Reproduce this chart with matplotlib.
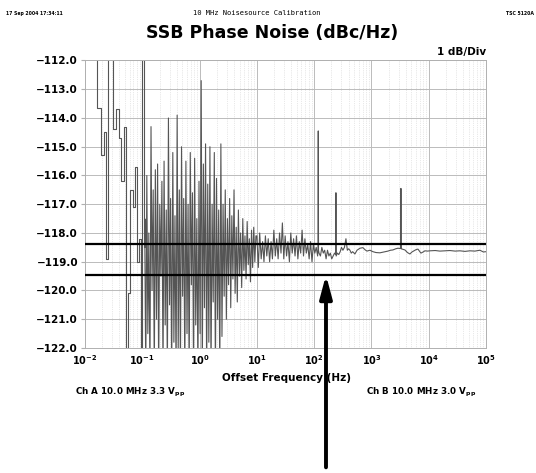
import matplotlib
matplotlib.use("Agg")
import matplotlib.pyplot as plt
from matplotlib.ticker import LogLocator, NullFormatter

# ---- data ----
# low offsets: few FFT bins, drawn as steps
low_freq = [0.01556, 0.01640, 0.01864, 0.02128, 0.02321, 0.02550, 0.03119, 0.03516, 0.03846, 0.04246,
            0.04883, 0.05257, 0.05740, 0.06223, 0.06887, 0.07601, 0.08089, 0.08750, 0.09310, 0.1007,
            0.1050, 0.110]
low_dbc = [-105.0, -113.66, -115.3, -114.5, -118.9, -105.0, -114.4, -113.7, -114.7, -116.2,
           -114.3, -123.0, -120.1, -116.5, -117.1, -115.7, -119.0, -118.2, -123.0, -111.0,
           -118.5, -117.5]

# 0.1 Hz .. 10 Hz: large noise
dense_freq = [0.110, 0.115, 0.120, 0.125, 0.130, 0.136, 0.142, 0.148, 0.155, 0.162,
              0.169, 0.177, 0.185, 0.193, 0.202, 0.211, 0.220, 0.230, 0.240, 0.251,
              0.262, 0.274, 0.286, 0.299, 0.312, 0.326, 0.341, 0.356, 0.372, 0.389,
              0.406, 0.424, 0.443, 0.463, 0.484, 0.506, 0.528, 0.552, 0.577, 0.603,
              0.630, 0.658, 0.688, 0.719, 0.751, 0.785, 0.820, 0.857, 0.895, 0.935,
              0.977, 1.021, 1.067, 1.115, 1.165, 1.217, 1.272, 1.329, 1.389, 1.451,
              1.516, 1.584, 1.655, 1.730, 1.808, 1.889, 1.974, 2.063, 2.156, 2.253,
              2.354, 2.460, 2.571, 2.687, 2.808, 2.934, 3.066, 3.204, 3.348, 3.499,
              3.656, 3.821, 3.993, 4.173, 4.361, 4.557, 4.762, 4.976, 5.200, 5.434,
              5.679, 5.934, 6.201, 6.480, 6.772, 7.077, 7.395, 7.728, 8.076, 8.439,
              8.819, 9.216, 9.631]
dense_dbc = [-117.5, -123.0, -116.0, -121.5, -118.0, -123.0, -114.3, -120.0, -116.5, -123.0,
             -115.8, -121.0, -115.6, -123.0, -117.0, -119.5, -116.2, -123.0, -115.5, -121.2,
             -117.2, -123.0, -114.0, -120.5, -116.8, -123.0, -115.2, -121.8, -117.4, -123.0,
             -113.9, -122.0, -116.5, -123.0, -115.0, -120.2, -116.8, -123.0, -115.5, -121.5,
             -117.0, -123.0, -115.2, -119.8, -116.6, -123.0, -115.4, -121.2, -117.5, -123.0,
             -116.2, -121.5, -112.7, -123.0, -115.6, -120.6, -114.9, -123.0, -116.3, -121.8,
             -115.0, -123.0, -117.0, -120.4, -115.2, -123.0, -116.1, -121.0, -117.2, -123.0,
             -114.9, -121.6, -117.0, -120.2, -116.5, -121.0, -117.5, -119.8, -116.8, -120.6,
             -117.4, -119.6, -116.5, -120.1, -117.8, -120.4, -117.2, -119.5, -118.0, -119.9,
             -117.5, -119.3, -118.1, -119.6, -117.6, -119.1, -118.2, -119.7, -117.9, -119.2,
             -117.8, -119.0, -118.1]

# 10 Hz .. 300 Hz: small noise plus mains spurs
hum_freq = [10.0, 10.6, 11.2, 11.9, 12.6, 13.3, 14.1, 14.9, 15.8, 16.7,
            17.7, 18.7, 19.8, 21.0, 22.2, 23.5, 24.9, 26.4, 27.9, 29.5,
            31.2, 33.0, 34.9, 37.0, 39.1, 41.4, 43.8, 46.4, 49.1, 52.0,
            55.0, 58.2, 61.6, 65.2, 69.0, 73.0, 77.3, 81.8, 86.6, 91.7,
            97.0, 102.7, 108.7, 115.0, 116.8, 118.0, 119.2, 121.7, 128.8, 136.3,
            144.3, 152.7, 161.6, 171.0, 181.0, 191.6, 202.8, 214.6, 227.1, 237.6,
            240.0, 242.4, 254.4, 269.3, 285.0]
hum_dbc = [-118.1, -119.2, -118.0, -118.9, -118.3, -119.0, -118.1, -118.8, -118.2, -119.0,
           -118.3, -118.9, -117.9, -118.8, -118.2, -118.9, -118.0, -118.7, -117.65, -118.9,
           -118.1, -118.8, -118.3, -119.0, -118.0, -118.7, -118.2, -118.8, -118.1, -118.9,
           -118.3, -118.7, -117.9, -118.8, -118.2, -118.7, -118.4, -118.9, -118.3, -119.0,
           -118.4, -118.7, -118.5, -118.8, -118.6, -114.45, -118.6, -118.7, -118.8, -118.5,
           -118.7, -118.6, -118.9, -118.6, -118.8, -118.7, -118.9, -118.8, -118.7, -118.75,
           -116.6, -118.8, -118.7, -118.75, -118.65]

# 300 Hz .. 100 kHz: flat floor
far_freq = [300, 318, 338, 359, 380, 400, 422, 445, 470, 515,
            560, 630, 711, 770, 834, 940, 1062, 1200, 1406, 1650,
            1941, 2150, 2371, 2650, 2899, 3230, 3273, 3316, 3548, 3846,
            4250, 4699, 5100, 5521, 6000, 6486, 7313, 8000, 8590, 9500,
            10500, 13000, 15680, 19000, 23440, 29000, 35060, 43000, 52380, 64000,
            78340, 90000, 100000]
far_dbc = [-118.5, -118.6, -118.5, -118.2, -118.6, -118.55, -118.6, -118.7, -118.65, -118.73,
           -118.6, -118.53, -118.51, -118.58, -118.63, -118.6, -118.65, -118.68, -118.69, -118.66,
           -118.63, -118.6, -118.59, -118.55, -118.53, -118.54, -116.45, -118.55, -118.57, -118.59,
           -118.68, -118.73, -118.66, -118.62, -118.58, -118.56, -118.7, -118.66, -118.62, -118.63,
           -118.62, -118.61, -118.63, -118.62, -118.61, -118.63, -118.62, -118.64, -118.62, -118.63,
           -118.6, -118.66, -118.65]

ref_levels = [-118.39, -119.46]
arrow_hz = 161

x_ticks = [1e-2, 1e-1, 1e0, 1e1, 1e2, 1e3, 1e4, 1e5]
x_tick_labels = [r"$\mathbf{10^{-2}}$", r"$\mathbf{10^{-1}}$", r"$\mathbf{10^{0}}$", r"$\mathbf{10^{1}}$",
                 r"$\mathbf{10^{2}}$", r"$\mathbf{10^{3}}$", r"$\mathbf{10^{4}}$", r"$\mathbf{10^{5}}$"]
y_ticks = [-112, -113, -114, -115, -116, -117, -118, -119, -120, -121, -122]

# ---- figure ----
fig = plt.figure(figsize=(5.36, 4.73), dpi=100)
ax = fig.add_axes([0.1586, 0.2643, 0.7481, 0.6078])

trace = dict(color="#555555", lw=0.8)
ax.plot(low_freq, low_dbc, drawstyle="steps-post", **trace)
ax.plot(dense_freq + hum_freq + far_freq, dense_dbc + hum_dbc + far_dbc, **trace)

for level in ref_levels:
    ax.axhline(level, color="black", lw=1.6, zorder=3)

ax.set_xscale("log")
ax.set_xlim(1e-2, 1e5)
ax.set_ylim(-122, -112)
ax.set_xticks(x_ticks)
ax.set_xticklabels(x_tick_labels, fontsize=7)
ax.xaxis.set_minor_locator(LogLocator(base=10, subs=range(2, 10)))
ax.xaxis.set_minor_formatter(NullFormatter())
ax.set_yticks(y_ticks)
ax.set_yticklabels([f"{v:.1f}".replace("-", "\u2212") for v in y_ticks],
                   fontsize=7.5, fontweight="bold")

ax.set_axisbelow(True)
ax.grid(which="major", color="#bbbbbb", lw=0.7)
ax.grid(which="minor", axis="x", color="#d2d2d2", lw=0.5, ls=":")
for sp in ax.spines.values():
    sp.set_color("#b0b0b0")
    sp.set_linewidth(0.7)
ax.tick_params(axis="x", which="both", length=0, pad=4)
ax.tick_params(axis="y", length=3, color="#b0b0b0", pad=2)

# arrow pointing at the lower reference line
ax.annotate("", xy=(arrow_hz, ref_levels[1]), xycoords="data",
            xytext=(arrow_hz, 0.012), textcoords=("data", "figure fraction"),
            arrowprops=dict(arrowstyle="-|>,head_length=1.35,head_width=0.36",
                            lw=2.8, color="black", shrinkA=0, shrinkB=0),
            annotation_clip=False, zorder=4)

# texts
fig.text(0.011, 0.9715, "17 Sep 2004 17:34:11", fontsize=3.3, fontweight="bold", va="center")
fig.text(0.479, 0.9715, "10 MHz Noisesource Calibration", fontsize=5.1,
         family="DejaVu Sans Mono", ha="center", va="center")
fig.text(0.997, 0.9715, "TSC 5120A", fontsize=3.3, fontweight="bold", ha="right", va="center")
fig.text(0.507, 0.919, "SSB Phase Noise (dBc/Hz)", fontsize=12.5, fontweight="bold",
         ha="center", va="baseline")
fig.text(0.9067, 0.8837, "1 dB/Div", fontsize=7.5, fontweight="bold", ha="right", va="baseline")
fig.text(0.5354, 0.1945, "Offset Frequency (Hz)", fontsize=7.5, fontweight="bold",
         ha="center", va="baseline")
fig.text(0.140, 0.167, r"Ch A 10.0 MHz 3.3 V$_{\mathbf{pp}}$", fontsize=6.3, fontweight="bold",
         va="baseline")
fig.text(0.683, 0.167, r"Ch B 10.0 MHz 3.0 V$_{\mathbf{pp}}$", fontsize=6.3, fontweight="bold",
         va="baseline")

fig.savefig("out.png", dpi=100, facecolor="white")
